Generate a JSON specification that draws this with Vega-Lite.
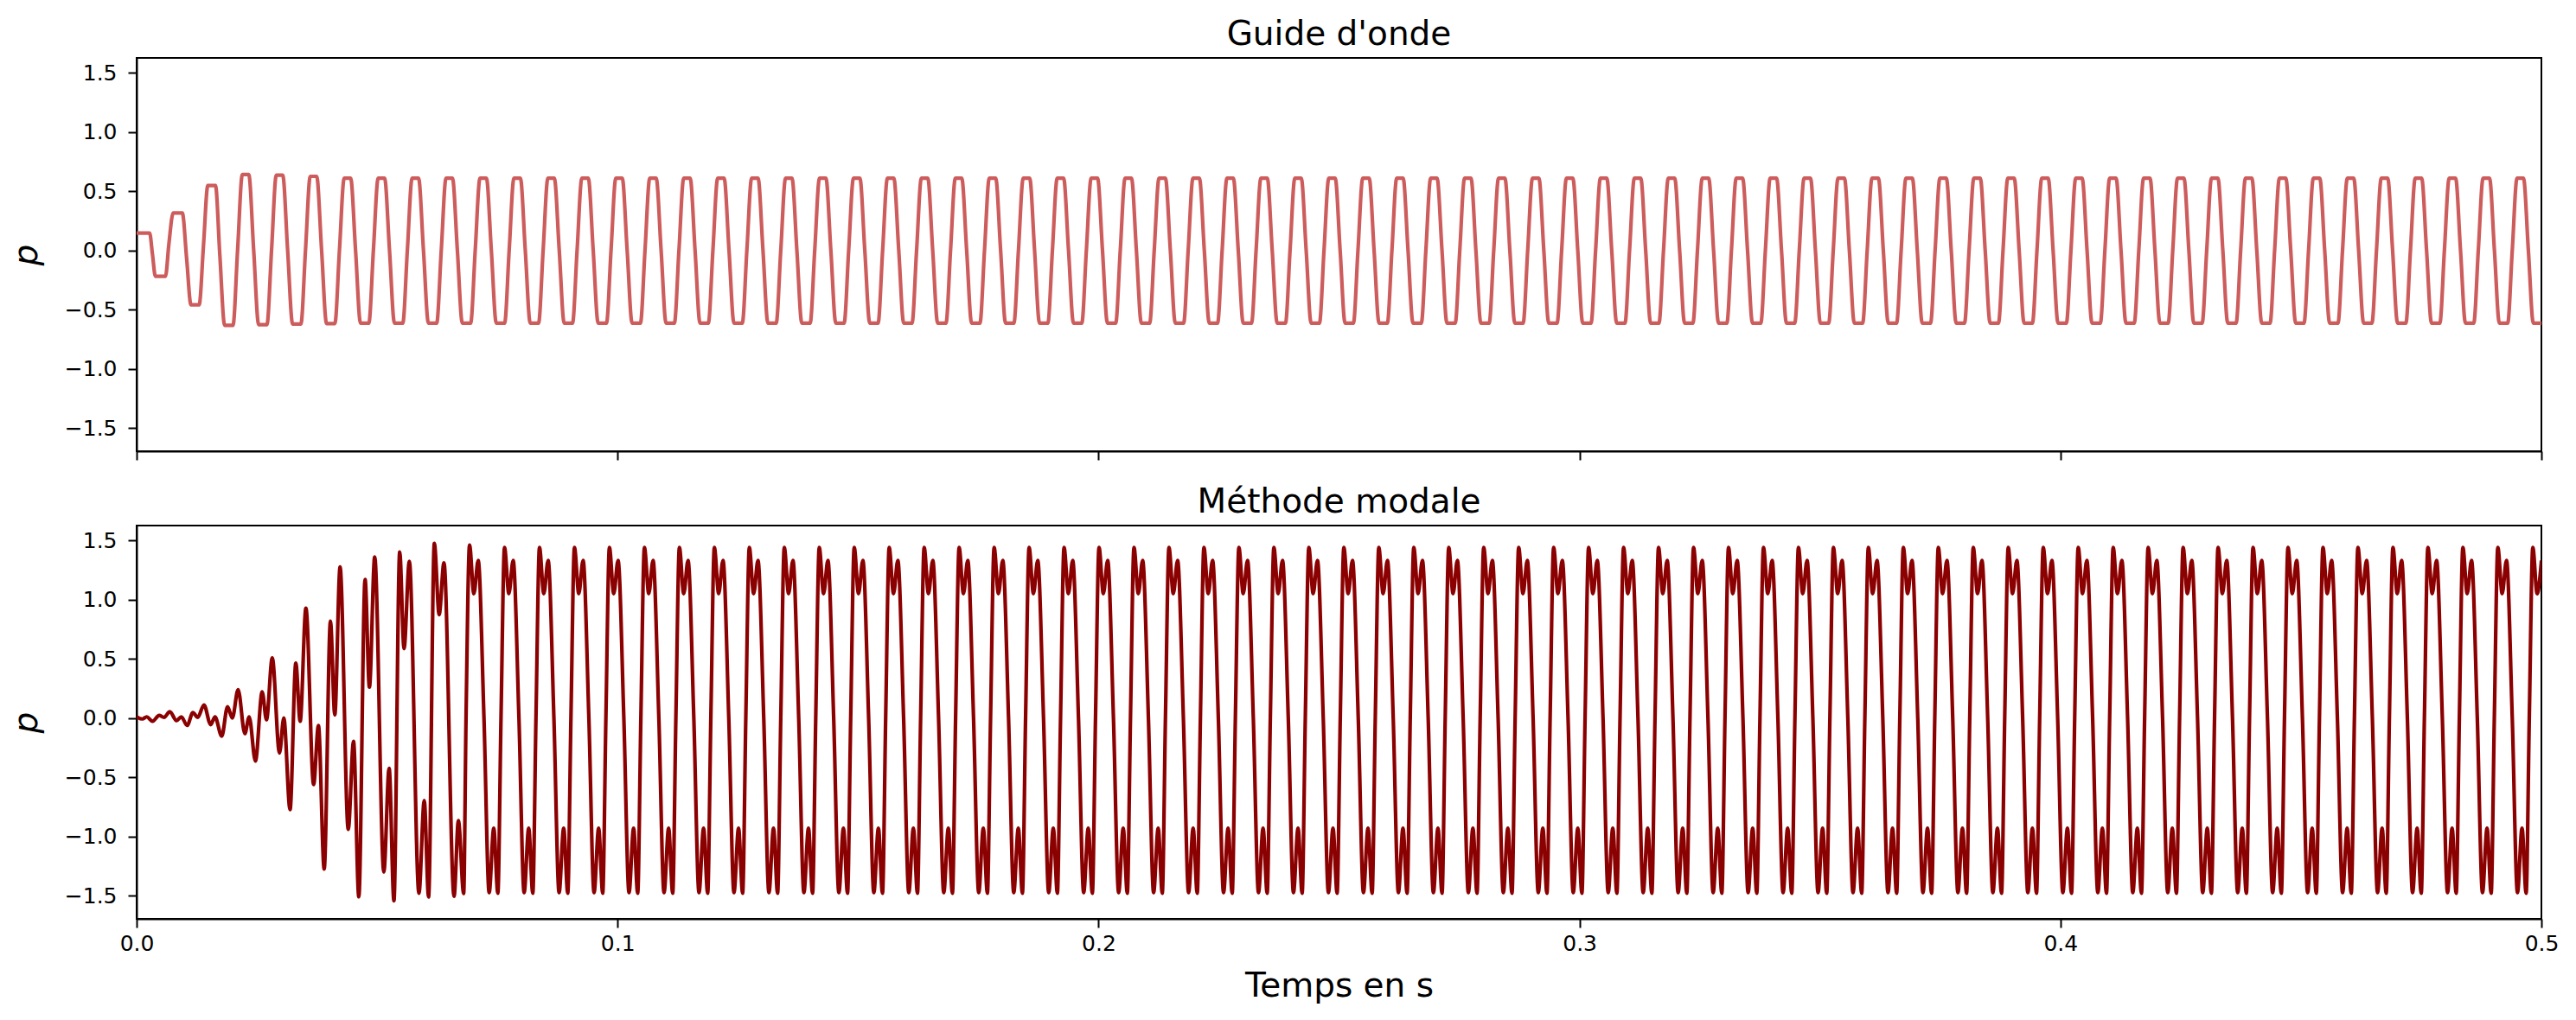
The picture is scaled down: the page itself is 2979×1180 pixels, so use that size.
{
"$schema": "https://vega.github.io/schema/vega-lite/v6.json",
"background": "white",
"padding": {"left": 10, "top": 20, "right": 10, "bottom": 5},
"config": {
"font": "DejaVu Sans",
"view": {"stroke": "black", "strokeWidth": 2},
"axis": {"grid": false, "domainColor": "black", "domainWidth": 2, "tickColor": "black", "tickWidth": 2, "tickSize": 10, "labelFontSize": 25, "labelColor": "black", "labelFont": "DejaVu Sans", "titleFont": "DejaVu Sans", "titleFontSize": 39, "titleFontWeight": "normal", "titleColor": "black", "labelFlush": false},
"title": {"fontSize": 39, "fontWeight": "normal", "font": "DejaVu Sans", "color": "black", "frame": "group", "anchor": "middle", "baseline": "alphabetic", "offset": 7}
},
"spacing": 86,
"bounds": "flush",
"vconcat": [
{
"title": "Guide d'onde",
"width": 2781, "height": 455,
"data": {"name": "guide"},
"mark": {"type": "line", "color": "indianred", "strokeWidth": 4.2, "interpolate": "monotone", "clip": true},
"encoding": {
"x": {"field": "t", "type": "quantitative", "scale": {"domain": [0, 0.5], "nice": false, "zero": false}, "axis": {"values": [0, 0.1, 0.2, 0.3, 0.4, 0.5], "labels": false, "title": null}},
"y": {"field": "p", "type": "quantitative", "scale": {"domain": [-1.696, 1.625], "nice": false, "zero": false}, "axis": {"values": [-1.5, -1, -0.5, 0, 0.5, 1, 1.5], "format": ".1f", "labelPadding": 13, "title": "p", "titleFontStyle": "italic", "titlePadding": 24}}
}
},
{
"title": "Méthode modale",
"width": 2781, "height": 455,
"data": {"name": "modal"},
"mark": {"type": "line", "color": "darkred", "strokeWidth": 4.2, "interpolate": "monotone", "clip": true},
"encoding": {
"x": {"field": "t", "type": "quantitative", "scale": {"domain": [0, 0.5], "nice": false, "zero": false}, "axis": {"values": [0, 0.1, 0.2, 0.3, 0.4, 0.5], "format": ".1f", "labelPadding": 6, "title": "Temps en s", "titlePadding": 17}},
"y": {"field": "p", "type": "quantitative", "scale": {"domain": [-1.696, 1.625], "nice": false, "zero": false}, "axis": {"values": [-1.5, -1, -0.5, 0, 0.5, 1, 1.5], "format": ".1f", "labelPadding": 13, "title": "p", "titleFontStyle": "italic", "titlePadding": 24}}
}
}
],
"datasets": {
"guide": [
{"t":0,"p":0.146},{"t":0.0027,"p":0.146},{"t":0.0033,"p":-0.036},{"t":0.0039,"p":-0.219},{"t":0.006,"p":-0.219},{"t":0.0067,"p":0.05},{"t":0.0076,"p":0.316},{"t":0.0095,"p":0.316},{"t":0.0104,"p":-0.07},{"t":0.0113,"p":-0.46},{"t":0.013,"p":-0.46},{"t":0.0139,"p":0.04},{"t":0.0148,"p":0.547},{"t":0.0164,"p":0.547},{"t":0.0173,"p":-0.04},{"t":0.0183,"p":-0.633},
{"t":0.02004,"p":-0.633},{"t":0.02099,"p":0},{"t":0.02198,"p":0.64},{"t":0.02332,"p":0.64},{"t":0.02434,"p":0},{"t":0.02537,"p":-0.627},
{"t":0.0271,"p":-0.627},{"t":0.02805,"p":0},{"t":0.02904,"p":0.635},{"t":0.03038,"p":0.635},{"t":0.0314,"p":0},{"t":0.03243,"p":-0.622},
{"t":0.03416,"p":-0.622},{"t":0.03511,"p":0},{"t":0.0361,"p":0.625},{"t":0.03744,"p":0.625},{"t":0.03846,"p":0},{"t":0.03949,"p":-0.618},
{"t":0.04122,"p":-0.618},{"t":0.04217,"p":0},{"t":0.04316,"p":0.61},{"t":0.0445,"p":0.61},{"t":0.04552,"p":0},{"t":0.04655,"p":-0.615},
{"t":0.04828,"p":-0.615},{"t":0.04923,"p":0},{"t":0.05022,"p":0.61},{"t":0.05156,"p":0.61},{"t":0.05258,"p":0},{"t":0.05361,"p":-0.615},
{"t":0.05534,"p":-0.615},{"t":0.05629,"p":0},{"t":0.05728,"p":0.61},{"t":0.05862,"p":0.61},{"t":0.05964,"p":0},{"t":0.06067,"p":-0.615},
{"t":0.06239,"p":-0.615},{"t":0.06334,"p":0},{"t":0.06433,"p":0.61},{"t":0.06567,"p":0.61},{"t":0.06669,"p":0},{"t":0.06772,"p":-0.615},
{"t":0.06945,"p":-0.615},{"t":0.0704,"p":0},{"t":0.07139,"p":0.61},{"t":0.07273,"p":0.61},{"t":0.07375,"p":0},{"t":0.07478,"p":-0.615},
{"t":0.07651,"p":-0.615},{"t":0.07746,"p":0},{"t":0.07845,"p":0.61},{"t":0.07979,"p":0.61},{"t":0.08081,"p":0},{"t":0.08184,"p":-0.615},
{"t":0.08357,"p":-0.615},{"t":0.08452,"p":0},{"t":0.08551,"p":0.61},{"t":0.08685,"p":0.61},{"t":0.08787,"p":0},{"t":0.0889,"p":-0.615},
{"t":0.09063,"p":-0.615},{"t":0.09158,"p":0},{"t":0.09257,"p":0.61},{"t":0.09391,"p":0.61},{"t":0.09493,"p":0},{"t":0.09596,"p":-0.615},
{"t":0.09769,"p":-0.615},{"t":0.09864,"p":0},{"t":0.09963,"p":0.61},{"t":0.10097,"p":0.61},{"t":0.10199,"p":0},{"t":0.10302,"p":-0.615},
{"t":0.10475,"p":-0.615},{"t":0.1057,"p":0},{"t":0.10669,"p":0.61},{"t":0.10803,"p":0.61},{"t":0.10905,"p":0},{"t":0.11008,"p":-0.615},
{"t":0.11181,"p":-0.615},{"t":0.11276,"p":0},{"t":0.11375,"p":0.61},{"t":0.11509,"p":0.61},{"t":0.11611,"p":0},{"t":0.11714,"p":-0.615},
{"t":0.11887,"p":-0.615},{"t":0.11982,"p":0},{"t":0.12081,"p":0.61},{"t":0.12215,"p":0.61},{"t":0.12317,"p":0},{"t":0.1242,"p":-0.615},
{"t":0.12593,"p":-0.615},{"t":0.12688,"p":0},{"t":0.12787,"p":0.61},{"t":0.12921,"p":0.61},{"t":0.13023,"p":0},{"t":0.13126,"p":-0.615},
{"t":0.13298,"p":-0.615},{"t":0.13393,"p":0},{"t":0.13492,"p":0.61},{"t":0.13626,"p":0.61},{"t":0.13728,"p":0},{"t":0.13831,"p":-0.615},
{"t":0.14004,"p":-0.615},{"t":0.14099,"p":0},{"t":0.14198,"p":0.61},{"t":0.14332,"p":0.61},{"t":0.14434,"p":0},{"t":0.14537,"p":-0.615},
{"t":0.1471,"p":-0.615},{"t":0.14805,"p":0},{"t":0.14904,"p":0.61},{"t":0.15038,"p":0.61},{"t":0.1514,"p":0},{"t":0.15243,"p":-0.615},
{"t":0.15416,"p":-0.615},{"t":0.15511,"p":0},{"t":0.1561,"p":0.61},{"t":0.15744,"p":0.61},{"t":0.15846,"p":0},{"t":0.15949,"p":-0.615},
{"t":0.16122,"p":-0.615},{"t":0.16217,"p":0},{"t":0.16316,"p":0.61},{"t":0.1645,"p":0.61},{"t":0.16552,"p":0},{"t":0.16655,"p":-0.615},
{"t":0.16828,"p":-0.615},{"t":0.16923,"p":0},{"t":0.17022,"p":0.61},{"t":0.17156,"p":0.61},{"t":0.17258,"p":0},{"t":0.17361,"p":-0.615},
{"t":0.17534,"p":-0.615},{"t":0.17629,"p":0},{"t":0.17728,"p":0.61},{"t":0.17862,"p":0.61},{"t":0.17964,"p":0},{"t":0.18067,"p":-0.615},
{"t":0.1824,"p":-0.615},{"t":0.18335,"p":0},{"t":0.18434,"p":0.61},{"t":0.18568,"p":0.61},{"t":0.1867,"p":0},{"t":0.18773,"p":-0.615},
{"t":0.18946,"p":-0.615},{"t":0.19041,"p":0},{"t":0.1914,"p":0.61},{"t":0.19274,"p":0.61},{"t":0.19376,"p":0},{"t":0.19479,"p":-0.615},
{"t":0.19652,"p":-0.615},{"t":0.19747,"p":0},{"t":0.19846,"p":0.61},{"t":0.1998,"p":0.61},{"t":0.20082,"p":0},{"t":0.20185,"p":-0.615},
{"t":0.20357,"p":-0.615},{"t":0.20452,"p":0},{"t":0.20551,"p":0.61},{"t":0.20685,"p":0.61},{"t":0.20787,"p":0},{"t":0.2089,"p":-0.615},
{"t":0.21063,"p":-0.615},{"t":0.21158,"p":0},{"t":0.21257,"p":0.61},{"t":0.21391,"p":0.61},{"t":0.21493,"p":0},{"t":0.21596,"p":-0.615},
{"t":0.21769,"p":-0.615},{"t":0.21864,"p":0},{"t":0.21963,"p":0.61},{"t":0.22097,"p":0.61},{"t":0.22199,"p":0},{"t":0.22302,"p":-0.615},
{"t":0.22475,"p":-0.615},{"t":0.2257,"p":0},{"t":0.22669,"p":0.61},{"t":0.22803,"p":0.61},{"t":0.22905,"p":0},{"t":0.23008,"p":-0.615},
{"t":0.23181,"p":-0.615},{"t":0.23276,"p":0},{"t":0.23375,"p":0.61},{"t":0.23509,"p":0.61},{"t":0.23611,"p":0},{"t":0.23714,"p":-0.615},
{"t":0.23887,"p":-0.615},{"t":0.23982,"p":0},{"t":0.24081,"p":0.61},{"t":0.24215,"p":0.61},{"t":0.24317,"p":0},{"t":0.2442,"p":-0.615},
{"t":0.24593,"p":-0.615},{"t":0.24688,"p":0},{"t":0.24787,"p":0.61},{"t":0.24921,"p":0.61},{"t":0.25023,"p":0},{"t":0.25126,"p":-0.615},
{"t":0.25299,"p":-0.615},{"t":0.25394,"p":0},{"t":0.25493,"p":0.61},{"t":0.25627,"p":0.61},{"t":0.25729,"p":0},{"t":0.25832,"p":-0.615},
{"t":0.26005,"p":-0.615},{"t":0.261,"p":0},{"t":0.26199,"p":0.61},{"t":0.26333,"p":0.61},{"t":0.26435,"p":0},{"t":0.26538,"p":-0.615},
{"t":0.26711,"p":-0.615},{"t":0.26806,"p":0},{"t":0.26905,"p":0.61},{"t":0.27039,"p":0.61},{"t":0.27141,"p":0},{"t":0.27244,"p":-0.615},
{"t":0.27416,"p":-0.615},{"t":0.27511,"p":0},{"t":0.2761,"p":0.61},{"t":0.27744,"p":0.61},{"t":0.27846,"p":0},{"t":0.27949,"p":-0.615},
{"t":0.28122,"p":-0.615},{"t":0.28217,"p":0},{"t":0.28316,"p":0.61},{"t":0.2845,"p":0.61},{"t":0.28552,"p":0},{"t":0.28655,"p":-0.615},
{"t":0.28828,"p":-0.615},{"t":0.28923,"p":0},{"t":0.29022,"p":0.61},{"t":0.29156,"p":0.61},{"t":0.29258,"p":0},{"t":0.29361,"p":-0.615},
{"t":0.29534,"p":-0.615},{"t":0.29629,"p":0},{"t":0.29728,"p":0.61},{"t":0.29862,"p":0.61},{"t":0.29964,"p":0},{"t":0.30067,"p":-0.615},
{"t":0.3024,"p":-0.615},{"t":0.30335,"p":0},{"t":0.30434,"p":0.61},{"t":0.30568,"p":0.61},{"t":0.3067,"p":0},{"t":0.30773,"p":-0.615},
{"t":0.30946,"p":-0.615},{"t":0.31041,"p":0},{"t":0.3114,"p":0.61},{"t":0.31274,"p":0.61},{"t":0.31376,"p":0},{"t":0.31479,"p":-0.615},
{"t":0.31652,"p":-0.615},{"t":0.31747,"p":0},{"t":0.31846,"p":0.61},{"t":0.3198,"p":0.61},{"t":0.32082,"p":0},{"t":0.32185,"p":-0.615},
{"t":0.32358,"p":-0.615},{"t":0.32453,"p":0},{"t":0.32552,"p":0.61},{"t":0.32686,"p":0.61},{"t":0.32788,"p":0},{"t":0.32891,"p":-0.615},
{"t":0.33064,"p":-0.615},{"t":0.33159,"p":0},{"t":0.33258,"p":0.61},{"t":0.33392,"p":0.61},{"t":0.33494,"p":0},{"t":0.33597,"p":-0.615},
{"t":0.3377,"p":-0.615},{"t":0.33865,"p":0},{"t":0.33964,"p":0.61},{"t":0.34098,"p":0.61},{"t":0.342,"p":0},{"t":0.34303,"p":-0.615},
{"t":0.34475,"p":-0.615},{"t":0.3457,"p":0},{"t":0.34669,"p":0.61},{"t":0.34803,"p":0.61},{"t":0.34905,"p":0},{"t":0.35008,"p":-0.615},
{"t":0.35181,"p":-0.615},{"t":0.35276,"p":0},{"t":0.35375,"p":0.61},{"t":0.35509,"p":0.61},{"t":0.35611,"p":0},{"t":0.35714,"p":-0.615},
{"t":0.35887,"p":-0.615},{"t":0.35982,"p":0},{"t":0.36081,"p":0.61},{"t":0.36215,"p":0.61},{"t":0.36317,"p":0},{"t":0.3642,"p":-0.615},
{"t":0.36593,"p":-0.615},{"t":0.36688,"p":0},{"t":0.36787,"p":0.61},{"t":0.36921,"p":0.61},{"t":0.37023,"p":0},{"t":0.37126,"p":-0.615},
{"t":0.37299,"p":-0.615},{"t":0.37394,"p":0},{"t":0.37493,"p":0.61},{"t":0.37627,"p":0.61},{"t":0.37729,"p":0},{"t":0.37832,"p":-0.615},
{"t":0.38005,"p":-0.615},{"t":0.381,"p":0},{"t":0.38199,"p":0.61},{"t":0.38333,"p":0.61},{"t":0.38435,"p":0},{"t":0.38538,"p":-0.615},
{"t":0.38711,"p":-0.615},{"t":0.38806,"p":0},{"t":0.38905,"p":0.61},{"t":0.39039,"p":0.61},{"t":0.39141,"p":0},{"t":0.39244,"p":-0.615},
{"t":0.39417,"p":-0.615},{"t":0.39512,"p":0},{"t":0.39611,"p":0.61},{"t":0.39745,"p":0.61},{"t":0.39847,"p":0},{"t":0.3995,"p":-0.615},
{"t":0.40123,"p":-0.615},{"t":0.40218,"p":0},{"t":0.40317,"p":0.61},{"t":0.40451,"p":0.61},{"t":0.40553,"p":0},{"t":0.40656,"p":-0.615},
{"t":0.40829,"p":-0.615},{"t":0.40924,"p":0},{"t":0.41023,"p":0.61},{"t":0.41157,"p":0.61},{"t":0.41259,"p":0},{"t":0.41362,"p":-0.615},
{"t":0.41534,"p":-0.615},{"t":0.41629,"p":0},{"t":0.41728,"p":0.61},{"t":0.41862,"p":0.61},{"t":0.41964,"p":0},{"t":0.42067,"p":-0.615},
{"t":0.4224,"p":-0.615},{"t":0.42335,"p":0},{"t":0.42434,"p":0.61},{"t":0.42568,"p":0.61},{"t":0.4267,"p":0},{"t":0.42773,"p":-0.615},
{"t":0.42946,"p":-0.615},{"t":0.43041,"p":0},{"t":0.4314,"p":0.61},{"t":0.43274,"p":0.61},{"t":0.43376,"p":0},{"t":0.43479,"p":-0.615},
{"t":0.43652,"p":-0.615},{"t":0.43747,"p":0},{"t":0.43846,"p":0.61},{"t":0.4398,"p":0.61},{"t":0.44082,"p":0},{"t":0.44185,"p":-0.615},
{"t":0.44358,"p":-0.615},{"t":0.44453,"p":0},{"t":0.44552,"p":0.61},{"t":0.44686,"p":0.61},{"t":0.44788,"p":0},{"t":0.44891,"p":-0.615},
{"t":0.45064,"p":-0.615},{"t":0.45159,"p":0},{"t":0.45258,"p":0.61},{"t":0.45392,"p":0.61},{"t":0.45494,"p":0},{"t":0.45597,"p":-0.615},
{"t":0.4577,"p":-0.615},{"t":0.45865,"p":0},{"t":0.45964,"p":0.61},{"t":0.46098,"p":0.61},{"t":0.462,"p":0},{"t":0.46303,"p":-0.615},
{"t":0.46476,"p":-0.615},{"t":0.46571,"p":0},{"t":0.4667,"p":0.61},{"t":0.46804,"p":0.61},{"t":0.46906,"p":0},{"t":0.47009,"p":-0.615},
{"t":0.47182,"p":-0.615},{"t":0.47277,"p":0},{"t":0.47376,"p":0.61},{"t":0.4751,"p":0.61},{"t":0.47612,"p":0},{"t":0.47715,"p":-0.615},
{"t":0.47888,"p":-0.615},{"t":0.47983,"p":0},{"t":0.48082,"p":0.61},{"t":0.48216,"p":0.61},{"t":0.48318,"p":0},{"t":0.48421,"p":-0.615},
{"t":0.48593,"p":-0.615},{"t":0.48688,"p":0},{"t":0.48787,"p":0.61},{"t":0.48921,"p":0.61},{"t":0.49023,"p":0},{"t":0.49126,"p":-0.615},
{"t":0.49299,"p":-0.615},{"t":0.49394,"p":0},{"t":0.49493,"p":0.61},{"t":0.49627,"p":0.61},{"t":0.49729,"p":0},{"t":0.49832,"p":-0.615},
{"t":0.5,"p":-0.615}
],
"modal": [
{"t":0,"p":0.01},{"t":0.0012,"p":-0.008},{"t":0.0021,"p":0.01},{"t":0.0033,"p":-0.027},{"t":0.0047,"p":0.022},{"t":0.0057,"p":0.005},{"t":0.0069,"p":0.053},{"t":0.0083,"p":-0.022},{"t":0.0093,"p":0.01},{"t":0.0105,"p":-0.063},{"t":0.0117,"p":0.046},{"t":0.0127,"p":0.005},{"t":0.014,"p":0.11},{"t":0.0154,"p":-0.056},{"t":0.0163,"p":0.01},{"t":0.0177,"p":-0.153},{"t":0.0189,"p":0.095},{"t":0.0199,"p":0},{"t":0.0211,"p":0.24},{"t":0.0225,"p":-0.132},{"t":0.0234,"p":0.01},{"t":0.0247,"p":-0.363},{"t":0.0261,"p":0.221},{"t":0.027,"p":-0.015},{"t":0.0282,"p":0.508},{"t":0.0297,"p":-0.295},{"t":0.0306,"p":0},{"t":0.0319,"p":-0.774},{"t":0.0331,"p":0.464},{"t":0.034,"p":-0.027},{"t":0.0352,"p":0.927},{"t":0.0368,"p":-0.562},{"t":0.0378,"p":-0.063},{"t":0.039,"p":-1.275},{"t":0.0403,"p":0.817},{"t":0.0412,"p":0.026},{"t":0.0423,"p":1.275},{"t":0.044,"p":-0.94},{"t":0.0451,"p":-0.197},{"t":0.0462,"p":-1.51},{"t":0.0475,"p":1.17},{"t":0.0484,"p":0.26},{"t":0.0495,"p":1.36},{"t":0.0514,"p":-1.3},{"t":0.0525,"p":-0.424},{"t":0.0535,"p":-1.543},{"t":0.0547,"p":1.401},{"t":0.0556,"p":0.586},{"t":0.0567,"p":1.323},{"t":0.0587,"p":-1.48},{"t":0.0598,"p":-0.696},{"t":0.0607,"p":-1.511},{"t":0.0619,"p":1.474},{"t":0.0629,"p":0.873},{"t":0.0639,"p":1.311},{"t":0.066,"p":-1.506},{"t":0.0669,"p":-0.866},{"t":0.068,"p":-1.482},{"t":0.06849,"p":0},
{"t":0.06922,"p":1.46},{"t":0.07012,"p":1.05},{"t":0.07102,"p":1.33},{"t":0.07222,"p":0},{"t":0.0733,"p":-1.475},{"t":0.07425,"p":-0.93},{"t":0.0751,"p":-1.48},{"t":0.07576,"p":0},
{"t":0.07649,"p":1.44},{"t":0.07739,"p":1.05},{"t":0.07829,"p":1.33},{"t":0.07949,"p":0},{"t":0.08057,"p":-1.475},{"t":0.08152,"p":-0.93},{"t":0.08237,"p":-1.48},{"t":0.08303,"p":0},
{"t":0.08376,"p":1.44},{"t":0.08466,"p":1.05},{"t":0.08556,"p":1.33},{"t":0.08676,"p":0},{"t":0.08784,"p":-1.475},{"t":0.08879,"p":-0.93},{"t":0.08964,"p":-1.48},{"t":0.0903,"p":0},
{"t":0.09103,"p":1.44},{"t":0.09193,"p":1.05},{"t":0.09283,"p":1.33},{"t":0.09403,"p":0},{"t":0.09511,"p":-1.475},{"t":0.09606,"p":-0.93},{"t":0.09691,"p":-1.48},{"t":0.09757,"p":0},
{"t":0.0983,"p":1.44},{"t":0.0992,"p":1.05},{"t":0.1001,"p":1.33},{"t":0.1013,"p":0},{"t":0.10238,"p":-1.475},{"t":0.10333,"p":-0.93},{"t":0.10418,"p":-1.48},{"t":0.10484,"p":0},
{"t":0.10558,"p":1.44},{"t":0.10648,"p":1.05},{"t":0.10738,"p":1.33},{"t":0.10858,"p":0},{"t":0.10966,"p":-1.475},{"t":0.11061,"p":-0.93},{"t":0.11146,"p":-1.48},{"t":0.11212,"p":0},
{"t":0.11285,"p":1.44},{"t":0.11375,"p":1.05},{"t":0.11465,"p":1.33},{"t":0.11585,"p":0},{"t":0.11693,"p":-1.475},{"t":0.11788,"p":-0.93},{"t":0.11873,"p":-1.48},{"t":0.11939,"p":0},
{"t":0.12012,"p":1.44},{"t":0.12102,"p":1.05},{"t":0.12192,"p":1.33},{"t":0.12312,"p":0},{"t":0.1242,"p":-1.475},{"t":0.12515,"p":-0.93},{"t":0.126,"p":-1.48},{"t":0.12666,"p":0},
{"t":0.12739,"p":1.44},{"t":0.12829,"p":1.05},{"t":0.12919,"p":1.33},{"t":0.13039,"p":0},{"t":0.13147,"p":-1.475},{"t":0.13242,"p":-0.93},{"t":0.13327,"p":-1.48},{"t":0.13393,"p":0},
{"t":0.13466,"p":1.44},{"t":0.13556,"p":1.05},{"t":0.13646,"p":1.33},{"t":0.13766,"p":0},{"t":0.13874,"p":-1.475},{"t":0.13969,"p":-0.93},{"t":0.14054,"p":-1.48},{"t":0.1412,"p":0},
{"t":0.14193,"p":1.44},{"t":0.14283,"p":1.05},{"t":0.14373,"p":1.33},{"t":0.14493,"p":0},{"t":0.14601,"p":-1.475},{"t":0.14696,"p":-0.93},{"t":0.14781,"p":-1.48},{"t":0.14847,"p":0},
{"t":0.1492,"p":1.44},{"t":0.1501,"p":1.05},{"t":0.151,"p":1.33},{"t":0.1522,"p":0},{"t":0.15328,"p":-1.475},{"t":0.15423,"p":-0.93},{"t":0.15508,"p":-1.48},{"t":0.15574,"p":0},
{"t":0.15647,"p":1.44},{"t":0.15737,"p":1.05},{"t":0.15827,"p":1.33},{"t":0.15947,"p":0},{"t":0.16055,"p":-1.475},{"t":0.1615,"p":-0.93},{"t":0.16235,"p":-1.48},{"t":0.16301,"p":0},
{"t":0.16374,"p":1.44},{"t":0.16464,"p":1.05},{"t":0.16554,"p":1.33},{"t":0.16674,"p":0},{"t":0.16782,"p":-1.475},{"t":0.16877,"p":-0.93},{"t":0.16962,"p":-1.48},{"t":0.17028,"p":0},
{"t":0.17101,"p":1.44},{"t":0.17191,"p":1.05},{"t":0.17281,"p":1.33},{"t":0.17401,"p":0},{"t":0.17509,"p":-1.475},{"t":0.17604,"p":-0.93},{"t":0.17689,"p":-1.48},{"t":0.17755,"p":0},
{"t":0.17829,"p":1.44},{"t":0.17919,"p":1.05},{"t":0.18009,"p":1.33},{"t":0.18129,"p":0},{"t":0.18237,"p":-1.475},{"t":0.18332,"p":-0.93},{"t":0.18417,"p":-1.48},{"t":0.18483,"p":0},
{"t":0.18556,"p":1.44},{"t":0.18646,"p":1.05},{"t":0.18736,"p":1.33},{"t":0.18856,"p":0},{"t":0.18964,"p":-1.475},{"t":0.19059,"p":-0.93},{"t":0.19144,"p":-1.48},{"t":0.1921,"p":0},
{"t":0.19283,"p":1.44},{"t":0.19373,"p":1.05},{"t":0.19463,"p":1.33},{"t":0.19583,"p":0},{"t":0.19691,"p":-1.475},{"t":0.19786,"p":-0.93},{"t":0.19871,"p":-1.48},{"t":0.19937,"p":0},
{"t":0.2001,"p":1.44},{"t":0.201,"p":1.05},{"t":0.2019,"p":1.33},{"t":0.2031,"p":0},{"t":0.20418,"p":-1.475},{"t":0.20513,"p":-0.93},{"t":0.20598,"p":-1.48},{"t":0.20664,"p":0},
{"t":0.20737,"p":1.44},{"t":0.20827,"p":1.05},{"t":0.20917,"p":1.33},{"t":0.21037,"p":0},{"t":0.21145,"p":-1.475},{"t":0.2124,"p":-0.93},{"t":0.21325,"p":-1.48},{"t":0.21391,"p":0},
{"t":0.21464,"p":1.44},{"t":0.21554,"p":1.05},{"t":0.21644,"p":1.33},{"t":0.21764,"p":0},{"t":0.21872,"p":-1.475},{"t":0.21967,"p":-0.93},{"t":0.22052,"p":-1.48},{"t":0.22118,"p":0},
{"t":0.22191,"p":1.44},{"t":0.22281,"p":1.05},{"t":0.22371,"p":1.33},{"t":0.22491,"p":0},{"t":0.22599,"p":-1.475},{"t":0.22694,"p":-0.93},{"t":0.22779,"p":-1.48},{"t":0.22845,"p":0},
{"t":0.22918,"p":1.44},{"t":0.23008,"p":1.05},{"t":0.23098,"p":1.33},{"t":0.23218,"p":0},{"t":0.23326,"p":-1.475},{"t":0.23421,"p":-0.93},{"t":0.23506,"p":-1.48},{"t":0.23572,"p":0},
{"t":0.23645,"p":1.44},{"t":0.23735,"p":1.05},{"t":0.23825,"p":1.33},{"t":0.23945,"p":0},{"t":0.24053,"p":-1.475},{"t":0.24148,"p":-0.93},{"t":0.24233,"p":-1.48},{"t":0.24299,"p":0},
{"t":0.24372,"p":1.44},{"t":0.24462,"p":1.05},{"t":0.24552,"p":1.33},{"t":0.24672,"p":0},{"t":0.2478,"p":-1.475},{"t":0.24875,"p":-0.93},{"t":0.2496,"p":-1.48},{"t":0.25026,"p":0},
{"t":0.251,"p":1.44},{"t":0.2519,"p":1.05},{"t":0.2528,"p":1.33},{"t":0.254,"p":0},{"t":0.25508,"p":-1.475},{"t":0.25603,"p":-0.93},{"t":0.25688,"p":-1.48},{"t":0.25754,"p":0},
{"t":0.25827,"p":1.44},{"t":0.25917,"p":1.05},{"t":0.26007,"p":1.33},{"t":0.26127,"p":0},{"t":0.26235,"p":-1.475},{"t":0.2633,"p":-0.93},{"t":0.26415,"p":-1.48},{"t":0.26481,"p":0},
{"t":0.26554,"p":1.44},{"t":0.26644,"p":1.05},{"t":0.26734,"p":1.33},{"t":0.26854,"p":0},{"t":0.26962,"p":-1.475},{"t":0.27057,"p":-0.93},{"t":0.27142,"p":-1.48},{"t":0.27208,"p":0},
{"t":0.27281,"p":1.44},{"t":0.27371,"p":1.05},{"t":0.27461,"p":1.33},{"t":0.27581,"p":0},{"t":0.27689,"p":-1.475},{"t":0.27784,"p":-0.93},{"t":0.27869,"p":-1.48},{"t":0.27935,"p":0},
{"t":0.28008,"p":1.44},{"t":0.28098,"p":1.05},{"t":0.28188,"p":1.33},{"t":0.28308,"p":0},{"t":0.28416,"p":-1.475},{"t":0.28511,"p":-0.93},{"t":0.28596,"p":-1.48},{"t":0.28662,"p":0},
{"t":0.28735,"p":1.44},{"t":0.28825,"p":1.05},{"t":0.28915,"p":1.33},{"t":0.29035,"p":0},{"t":0.29143,"p":-1.475},{"t":0.29238,"p":-0.93},{"t":0.29323,"p":-1.48},{"t":0.29389,"p":0},
{"t":0.29462,"p":1.44},{"t":0.29552,"p":1.05},{"t":0.29642,"p":1.33},{"t":0.29762,"p":0},{"t":0.2987,"p":-1.475},{"t":0.29965,"p":-0.93},{"t":0.3005,"p":-1.48},{"t":0.30116,"p":0},
{"t":0.30189,"p":1.44},{"t":0.30279,"p":1.05},{"t":0.30369,"p":1.33},{"t":0.30489,"p":0},{"t":0.30597,"p":-1.475},{"t":0.30692,"p":-0.93},{"t":0.30777,"p":-1.48},{"t":0.30843,"p":0},
{"t":0.30916,"p":1.44},{"t":0.31006,"p":1.05},{"t":0.31096,"p":1.33},{"t":0.31216,"p":0},{"t":0.31324,"p":-1.475},{"t":0.31419,"p":-0.93},{"t":0.31504,"p":-1.48},{"t":0.3157,"p":0},
{"t":0.31643,"p":1.44},{"t":0.31733,"p":1.05},{"t":0.31823,"p":1.33},{"t":0.31943,"p":0},{"t":0.32051,"p":-1.475},{"t":0.32146,"p":-0.93},{"t":0.32231,"p":-1.48},{"t":0.32297,"p":0},
{"t":0.32371,"p":1.44},{"t":0.32461,"p":1.05},{"t":0.32551,"p":1.33},{"t":0.32671,"p":0},{"t":0.32779,"p":-1.475},{"t":0.32874,"p":-0.93},{"t":0.32959,"p":-1.48},{"t":0.33025,"p":0},
{"t":0.33098,"p":1.44},{"t":0.33188,"p":1.05},{"t":0.33278,"p":1.33},{"t":0.33398,"p":0},{"t":0.33506,"p":-1.475},{"t":0.33601,"p":-0.93},{"t":0.33686,"p":-1.48},{"t":0.33752,"p":0},
{"t":0.33825,"p":1.44},{"t":0.33915,"p":1.05},{"t":0.34005,"p":1.33},{"t":0.34125,"p":0},{"t":0.34233,"p":-1.475},{"t":0.34328,"p":-0.93},{"t":0.34413,"p":-1.48},{"t":0.34479,"p":0},
{"t":0.34552,"p":1.44},{"t":0.34642,"p":1.05},{"t":0.34732,"p":1.33},{"t":0.34852,"p":0},{"t":0.3496,"p":-1.475},{"t":0.35055,"p":-0.93},{"t":0.3514,"p":-1.48},{"t":0.35206,"p":0},
{"t":0.35279,"p":1.44},{"t":0.35369,"p":1.05},{"t":0.35459,"p":1.33},{"t":0.35579,"p":0},{"t":0.35687,"p":-1.475},{"t":0.35782,"p":-0.93},{"t":0.35867,"p":-1.48},{"t":0.35933,"p":0},
{"t":0.36006,"p":1.44},{"t":0.36096,"p":1.05},{"t":0.36186,"p":1.33},{"t":0.36306,"p":0},{"t":0.36414,"p":-1.475},{"t":0.36509,"p":-0.93},{"t":0.36594,"p":-1.48},{"t":0.3666,"p":0},
{"t":0.36733,"p":1.44},{"t":0.36823,"p":1.05},{"t":0.36913,"p":1.33},{"t":0.37033,"p":0},{"t":0.37141,"p":-1.475},{"t":0.37236,"p":-0.93},{"t":0.37321,"p":-1.48},{"t":0.37387,"p":0},
{"t":0.3746,"p":1.44},{"t":0.3755,"p":1.05},{"t":0.3764,"p":1.33},{"t":0.3776,"p":0},{"t":0.37868,"p":-1.475},{"t":0.37963,"p":-0.93},{"t":0.38048,"p":-1.48},{"t":0.38114,"p":0},
{"t":0.38187,"p":1.44},{"t":0.38277,"p":1.05},{"t":0.38367,"p":1.33},{"t":0.38487,"p":0},{"t":0.38595,"p":-1.475},{"t":0.3869,"p":-0.93},{"t":0.38775,"p":-1.48},{"t":0.38841,"p":0},
{"t":0.38914,"p":1.44},{"t":0.39004,"p":1.05},{"t":0.39094,"p":1.33},{"t":0.39214,"p":0},{"t":0.39322,"p":-1.475},{"t":0.39417,"p":-0.93},{"t":0.39502,"p":-1.48},{"t":0.39568,"p":0},
{"t":0.39642,"p":1.44},{"t":0.39732,"p":1.05},{"t":0.39822,"p":1.33},{"t":0.39942,"p":0},{"t":0.4005,"p":-1.475},{"t":0.40145,"p":-0.93},{"t":0.4023,"p":-1.48},{"t":0.40296,"p":0},
{"t":0.40369,"p":1.44},{"t":0.40459,"p":1.05},{"t":0.40549,"p":1.33},{"t":0.40669,"p":0},{"t":0.40777,"p":-1.475},{"t":0.40872,"p":-0.93},{"t":0.40957,"p":-1.48},{"t":0.41023,"p":0},
{"t":0.41096,"p":1.44},{"t":0.41186,"p":1.05},{"t":0.41276,"p":1.33},{"t":0.41396,"p":0},{"t":0.41504,"p":-1.475},{"t":0.41599,"p":-0.93},{"t":0.41684,"p":-1.48},{"t":0.4175,"p":0},
{"t":0.41823,"p":1.44},{"t":0.41913,"p":1.05},{"t":0.42003,"p":1.33},{"t":0.42123,"p":0},{"t":0.42231,"p":-1.475},{"t":0.42326,"p":-0.93},{"t":0.42411,"p":-1.48},{"t":0.42477,"p":0},
{"t":0.4255,"p":1.44},{"t":0.4264,"p":1.05},{"t":0.4273,"p":1.33},{"t":0.4285,"p":0},{"t":0.42958,"p":-1.475},{"t":0.43053,"p":-0.93},{"t":0.43138,"p":-1.48},{"t":0.43204,"p":0},
{"t":0.43277,"p":1.44},{"t":0.43367,"p":1.05},{"t":0.43457,"p":1.33},{"t":0.43577,"p":0},{"t":0.43685,"p":-1.475},{"t":0.4378,"p":-0.93},{"t":0.43865,"p":-1.48},{"t":0.43931,"p":0},
{"t":0.44004,"p":1.44},{"t":0.44094,"p":1.05},{"t":0.44184,"p":1.33},{"t":0.44304,"p":0},{"t":0.44412,"p":-1.475},{"t":0.44507,"p":-0.93},{"t":0.44592,"p":-1.48},{"t":0.44658,"p":0},
{"t":0.44731,"p":1.44},{"t":0.44821,"p":1.05},{"t":0.44911,"p":1.33},{"t":0.45031,"p":0},{"t":0.45139,"p":-1.475},{"t":0.45234,"p":-0.93},{"t":0.45319,"p":-1.48},{"t":0.45385,"p":0},
{"t":0.45458,"p":1.44},{"t":0.45548,"p":1.05},{"t":0.45638,"p":1.33},{"t":0.45758,"p":0},{"t":0.45866,"p":-1.475},{"t":0.45961,"p":-0.93},{"t":0.46046,"p":-1.48},{"t":0.46112,"p":0},
{"t":0.46185,"p":1.44},{"t":0.46275,"p":1.05},{"t":0.46365,"p":1.33},{"t":0.46485,"p":0},{"t":0.46593,"p":-1.475},{"t":0.46688,"p":-0.93},{"t":0.46773,"p":-1.48},{"t":0.46839,"p":0},
{"t":0.46913,"p":1.44},{"t":0.47003,"p":1.05},{"t":0.47093,"p":1.33},{"t":0.47213,"p":0},{"t":0.47321,"p":-1.475},{"t":0.47416,"p":-0.93},{"t":0.47501,"p":-1.48},{"t":0.47567,"p":0},
{"t":0.4764,"p":1.44},{"t":0.4773,"p":1.05},{"t":0.4782,"p":1.33},{"t":0.4794,"p":0},{"t":0.48048,"p":-1.475},{"t":0.48143,"p":-0.93},{"t":0.48228,"p":-1.48},{"t":0.48294,"p":0},
{"t":0.48367,"p":1.44},{"t":0.48457,"p":1.05},{"t":0.48547,"p":1.33},{"t":0.48667,"p":0},{"t":0.48775,"p":-1.475},{"t":0.4887,"p":-0.93},{"t":0.48955,"p":-1.48},{"t":0.49021,"p":0},
{"t":0.49094,"p":1.44},{"t":0.49184,"p":1.05},{"t":0.49274,"p":1.33},{"t":0.49394,"p":0},{"t":0.49502,"p":-1.475},{"t":0.49597,"p":-0.93},{"t":0.49682,"p":-1.48},{"t":0.49748,"p":0},
{"t":0.49821,"p":1.44},{"t":0.49911,"p":1.05},{"t":0.50001,"p":1.33}
]
}
}
